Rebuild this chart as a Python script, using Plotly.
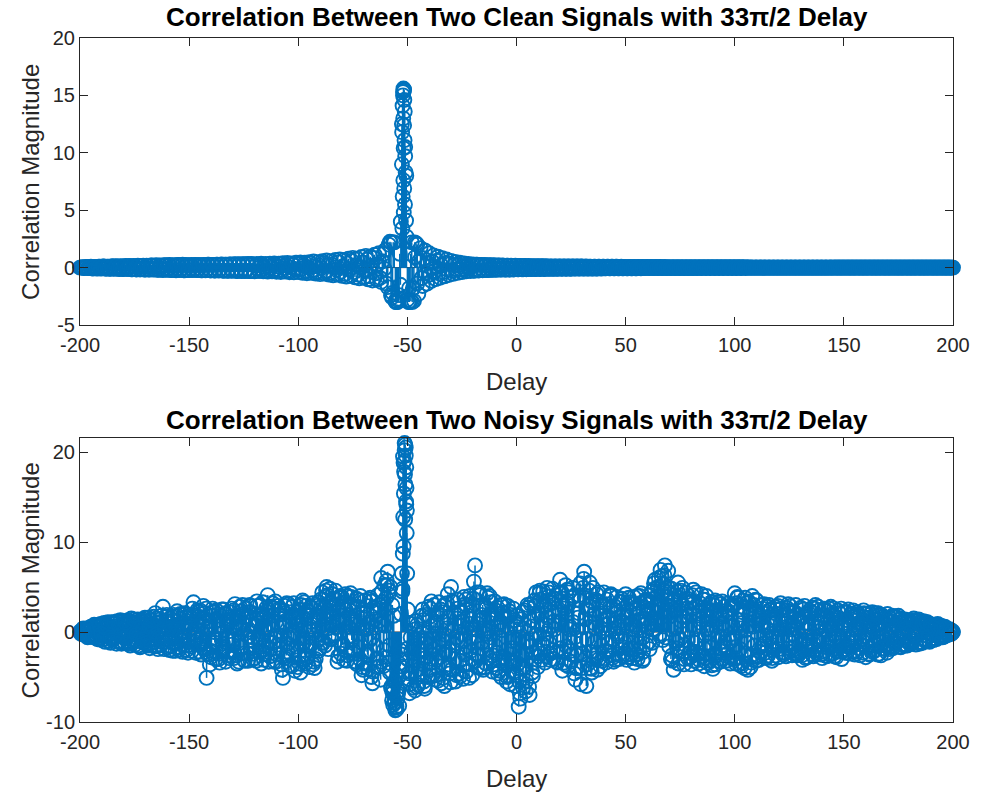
import plotly.graph_objects as go
from plotly.subplots import make_subplots

# ---------------- data ----------------
delay = list(range(-200, 201))                      # integer delays
delay_half = [d + 0.5 for d in range(-200, 200)]    # half-step delays
delay_q1 = [d + 0.25 for d in range(-200, 200)]     # quarter-step delays (noisy)
delay_q3 = [d + 0.75 for d in range(-200, 200)]

clean_corr = [
    0.00, 0.04, -0.05, 0.06, -0.04, 0.07, -0.08, 0.05, -0.09, 0.08,
    -0.06, 0.10, -0.10, 0.07, -0.11, 0.12, -0.08, 0.11, -0.13, 0.10,
    -0.12, 0.14, -0.10, 0.13, -0.15, 0.12, -0.16, 0.15, -0.13, 0.17,
    -0.17, 0.14, -0.18, 0.19, -0.15, 0.20, -0.19, 0.16, -0.21, 0.20,
    -0.18, 0.22, -0.22, 0.19, -0.24, 0.23, -0.20, 0.25, -0.24, 0.21,
    -0.22, 0.22, -0.20, 0.23, -0.22, 0.21, -0.24, 0.24, -0.22, 0.25,
    -0.25, 0.23, -0.26, 0.26, -0.24, 0.27, -0.27, 0.25, -0.28, 0.28,
    -0.26, 0.29, -0.29, 0.27, -0.30, 0.30, -0.28, 0.31, -0.31, 0.29,
    -0.32, 0.32, -0.30, 0.34, -0.33, 0.31, -0.35, 0.35, -0.32, 0.36,
    -0.36, 0.34, -0.38, 0.38, -0.35, 0.40, -0.40, 0.37, -0.42, 0.42,
    -0.39, 0.45, -0.45, 0.42, -0.49, 0.48, -0.45, 0.53, -0.52, 0.48,
    -0.57, 0.56, -0.52, 0.62, -0.61, 0.56, -0.67, 0.66, -0.60, 0.72,
    -0.72, 0.66, -0.78, 0.78, -0.72, 0.85, -0.85, 0.78, -0.93, 0.92,
    -0.86, 1.02, -1.02, 0.95, -1.12, 1.12, -1.04, 1.25, -1.25, 1.18,
    1.55, -1.70, 2.25, -2.60, 2.20, -3.00, -2.70, 4.00, 15.30, 10.50,
    -2.80, -3.00, 2.20, -2.90, 2.10, -2.30, 1.70, -1.60, 1.50, -1.40,
    1.25, -1.15, 1.05, -1.00, 0.95, -0.88, 0.82, -0.76, 0.70, -0.64,
    0.58, -0.54, 0.50, -0.46, 0.42, -0.39, 0.36, -0.33, 0.31, -0.29,
    0.27, -0.26, 0.25, -0.24, 0.23, -0.22, 0.21, -0.21, 0.20, -0.19,
    0.19, -0.18, 0.18, -0.17, 0.17, -0.16, 0.16, -0.16, 0.15, -0.15,
    0.15, -0.14, 0.14, -0.14, 0.14, -0.13, 0.13, -0.13, 0.13, -0.12,
    0.12, -0.12, 0.12, -0.12, 0.11, -0.11, 0.11, -0.11, 0.11, -0.10,
    0.10, -0.10, 0.10, -0.10, 0.10, -0.10, 0.09, -0.09, 0.09, -0.09,
    0.09, -0.09, 0.09, -0.08, 0.08, -0.08, 0.08, -0.08, 0.08, -0.08,
    0.08, -0.07, 0.07, -0.07, 0.07, -0.07, 0.07, -0.07, 0.07, -0.06,
    0.06, -0.06, 0.06, -0.06, 0.06, -0.06, 0.06, -0.06, 0.05, -0.05,
    0.05, -0.05, 0.05, -0.05, 0.05, -0.05, 0.05, -0.05, 0.05, -0.04,
    0.04, -0.04, 0.04, -0.04, 0.04, -0.04, 0.04, -0.04, 0.04, -0.04,
    0.04, -0.04, 0.03, -0.03, 0.03, -0.03, 0.03, -0.03, 0.03, -0.03,
    0.03, -0.03, 0.03, -0.03, 0.03, -0.03, 0.03, -0.03, 0.03, -0.03,
    0.03, -0.03, 0.03, -0.03, 0.03, -0.03, 0.03, -0.02, 0.02, -0.02,
    0.02, -0.02, 0.02, -0.02, 0.02, -0.02, 0.02, -0.02, 0.02, -0.02,
    0.02, -0.02, 0.02, -0.02, 0.02, -0.02, 0.02, -0.02, 0.02, -0.02,
    0.02, -0.02, 0.02, -0.02, 0.02, -0.02, 0.02, -0.02, 0.02, -0.02,
    0.02, -0.02, 0.02, -0.02, 0.02, -0.02, 0.02, -0.01, 0.01, -0.01,
    0.01, -0.01, 0.01, -0.01, 0.01, -0.01, 0.01, -0.01, 0.01, -0.01,
    0.01, -0.01, 0.01, -0.01, 0.01, -0.01, 0.01, -0.01, 0.01, -0.01,
    0.01, -0.01, 0.01, -0.01, 0.01, -0.01, 0.01, -0.01, 0.01, -0.01,
    0.01, -0.01, 0.01, -0.01, 0.01, -0.01, 0.01, -0.01, 0.01, -0.01,
    0.01, -0.01, 0.01, -0.01, 0.01, -0.01, 0.01, -0.01, 0.01, -0.01, 0.00,
]

clean_corr_half = [
    0.02, -0.03, 0.05, -0.05, 0.06, -0.07, 0.06, -0.07, 0.08, -0.08,
    0.09, -0.09, 0.08, -0.10, 0.11, -0.10, 0.12, -0.11, 0.12, -0.13,
    0.13, -0.12, 0.14, -0.15, 0.14, -0.15, 0.16, -0.16, 0.15, -0.17,
    0.17, -0.16, 0.18, -0.18, 0.17, -0.19, 0.19, -0.18, 0.20, -0.20,
    0.20, -0.21, 0.21, -0.20, 0.22, -0.22, 0.21, -0.23, 0.23, -0.22,
    0.21, -0.22, 0.23, -0.21, 0.23, -0.24, 0.22, -0.24, 0.25, -0.23,
    0.24, -0.25, 0.26, -0.25, 0.26, -0.27, 0.26, -0.27, 0.28, -0.27,
    0.28, -0.29, 0.29, -0.28, 0.30, -0.30, 0.29, -0.31, 0.31, -0.30,
    0.15, -0.08, 0.22, -0.18, 0.05, -0.25, 0.12, -0.02, 0.20, -0.15,
    0.10, -0.22, 0.28, -0.05, 0.18, -0.30, 0.02, 0.25, -0.12, -0.20,
    0.30, -0.10, 0.15, -0.32, 0.05, 0.35, -0.22, 0.12, -0.38, 0.20,
    -0.05, 0.40, -0.30, 0.18, -0.45, 0.25, 0.02, -0.20, 0.48, -0.35,
    0.10, -0.55, 0.35, -0.15, 0.60, -0.40, 0.20, -0.62, 0.05, 0.45,
    -0.30, 0.70, -0.75, 0.15, 0.85, -0.50, 0.30, -0.90, 0.55, -0.10,
    -1.40, 2.00, -2.40, 2.20, -2.90, -3.00, 1.20, 12.50, 15.50, 8.00,
    -3.00, 1.20, -1.80, 0.90, -1.40, 0.60, -0.90, 0.80, -0.50, 0.40,
    -0.60, 0.50, -0.30, 0.60, -0.50, 0.20, -0.40, 0.40, -0.20, 0.30,
    -0.25, 0.20, -0.15, 0.22, -0.18, 0.10, -0.15, 0.16, -0.08, 0.12,
    -0.27, 0.26, -0.25, 0.24, -0.23, 0.22, -0.21, 0.21, -0.20, 0.20,
    -0.19, 0.19, -0.18, 0.18, -0.18, 0.17, -0.17, 0.17, -0.16, 0.16,
    -0.15, 0.15, -0.14, 0.14, -0.14, 0.14, -0.13, 0.13, -0.13, 0.13,
    -0.12, 0.12, -0.12, 0.12, -0.11, 0.11, -0.11, 0.11, -0.11, 0.10,
    -0.10, 0.10, -0.10, 0.10, -0.10, 0.09, -0.09, 0.09, -0.09, 0.09,
    -0.09, 0.08, -0.08, 0.08, -0.08, 0.08, -0.08, 0.08, -0.07, 0.07,
    -0.07, 0.07, -0.07, 0.07, -0.07, 0.07, -0.06, 0.06, -0.06, 0.06,
    -0.06, 0.06, -0.06, 0.06, -0.06, 0.05, -0.05, 0.05, -0.05, 0.05,
    -0.05, 0.05, -0.05, 0.05, -0.05, 0.05, -0.05, 0.04, -0.04, 0.04,
    -0.04, 0.04, -0.04, 0.04, -0.04, 0.04, -0.04, 0.04, -0.04, 0.04,
    -0.04, 0.04, -0.04, 0.03, -0.03, 0.03, -0.03, 0.03, -0.03, 0.03,
    -0.03, 0.03, -0.03, 0.03, -0.03, 0.03, -0.03, 0.03, -0.03, 0.03,
    -0.03, 0.03, -0.03, 0.03, -0.02, 0.02, -0.02, 0.02, -0.02, 0.02,
    -0.02, 0.02, -0.02, 0.02, -0.02, 0.02, -0.02, 0.02, -0.02, 0.02,
    -0.02, 0.02, -0.02, 0.02, -0.02, 0.02, -0.02, 0.02, -0.02, 0.02,
    -0.02, 0.02, -0.02, 0.02, -0.02, 0.02, -0.02, 0.02, -0.02, 0.02,
    -0.02, 0.02, -0.02, 0.02, -0.01, 0.01, -0.01, 0.01, -0.01, 0.01,
    -0.01, 0.01, -0.01, 0.01, -0.01, 0.01, -0.01, 0.01, -0.01, 0.01,
    -0.01, 0.01, -0.01, 0.01, -0.01, 0.01, -0.01, 0.01, -0.01, 0.01,
    -0.01, 0.01, -0.01, 0.01, -0.01, 0.01, -0.01, 0.01, -0.01, 0.01,
    -0.01, 0.01, -0.01, 0.01, -0.01, 0.01, -0.01, 0.01, -0.01, 0.01,
    -0.01, 0.01, -0.01, 0.01, -0.01, 0.01, -0.01, 0.01, -0.01, 0.01,
]

# extra fine-delay samples around the clean main lobe
clean_peak_delay = [-51.8, -51.6, -52.0, -51.4, -52.2, -51.2, -51.9, -51.5, -52.4, -51.3,
                    -51.7, -51.0, -52.5, -50.8, -51.85, -51.45, -52.15, -51.1, -51.65, -50.6,
                    -52.3, -50.4, -53.2, -54.6, -55.3, -48.4, -47.8, -57.5, -45.5, -56.8,
                    -46.6, -53.8, -49.2]
clean_peak_corr = [15.6, 15.4, 15.0, 14.6, 14.1, 13.6, 13.0, 12.4, 11.8, 11.1,
                   10.4, 9.7, 9.0, 8.3, 7.6, 6.9, 6.2, 5.5, 4.8, 4.1,
                   3.4, 2.7, -1.5, -2.8, -3.0, -2.9, -3.0, 2.2, 2.0, -2.2,
                   2.2, -2.4, -1.8]

noisy_corr = [
    0.0, 0.2, -0.3, 0.4, -0.5, 0.6, -0.4, 0.7, -0.8, 0.5,
    -0.9, 1.0, -0.3, 0.6, -1.2, 0.9, -0.6, 1.2, 0.2, -1.3,
    0.8, -0.7, 1.3, -1.5, 0.3, 1.1, -1.0, 0.5, -1.6, 1.4,
    -0.4, 1.6, -1.8, 0.9, -1.1, 1.5, 0.1, -1.4, 2.8, -0.8,
    1.2, -2.0, 0.6, 1.9, -1.3, -0.5, 2.0, -2.2, 1.0, -0.9,
    1.8, -1.6, 3.3, -2.3, 0.7, 2.4, -1.2, 1.5, -5.1, 0.4,
    -2.8, 2.2, -0.8, 1.3, -3.4, 2.5, -1.9, 0.9, -2.6, 1.7,
    -1.0, 3.1, -3.5, 0.5, 2.3, -2.4, 1.6, -3.2, 2.9, -0.6,
    -2.9, 3.4, 1.0, -3.5, 2.0, -1.5, 4.1, -2.7, 0.8, 2.6,
    -3.3, 1.9, -0.4, -5.1, 2.9, -2.2, 1.2, -3.8, 3.2, -1.6,
    0.9, -4.5, 3.5, -2.5, 1.8, -3.9, 2.7, 0.2, -3.0, 3.3,
    -1.8, 4.4, 1.5, 5.0, -0.5, 3.2, 2.1, 4.6, -3.3, 1.2,
    3.9, -3.1, 2.4, 0.6, 4.3, -2.0, 1.7, -3.6, 3.5, -4.8,
    2.2, 0.3, -4.1, 3.8, -5.7, 1.4, -2.9, 3.0, 6.0, -3.8,
    2.5, 6.7, -4.5, -7.6, -5.5, -8.6, -6.5, 2.0, 19.5, 12.5,
    -3.0, -6.8, -4.5, -1.5, 1.2, -5.9, -2.6, 2.5, -6.3, -0.8,
    -4.2, 3.4, -1.9, 1.0, -5.4, -2.8, 2.2, -6.0, 0.4, -3.6,
    5.0, -1.4, -5.5, 2.6, -3.2, 0.7, 3.9, -4.4, 1.8, -2.1,
    2.9, 7.4, -3.9, 4.4, -1.2, 1.6, -3.5, 3.8, -0.6, -4.4,
    3.4, -2.3, 0.5, -5.0, 2.1, -3.7, 2.9, -5.8, -1.0, 1.3,
    -4.8, -8.3, 1.4, -6.2, -2.4, 3.0, -7.0, 0.6, -3.4, 4.4,
    -2.7, 3.6, 0.8, -3.4, 4.9, -1.2, 2.2, -3.0, 4.1, 1.0,
    5.8, -4.3, 2.6, -1.6, 4.4, -3.3, 1.1, -5.3, 0.2, 3.5,
    -4.0, 6.7, -6.0, 2.9, -2.2, 4.9, 0.5, -4.2, 3.3, -1.5,
    4.4, -3.4, 1.7, 2.8, -2.6, 0.4, 3.9, -3.0, 1.2, -1.0,
    4.2, -2.8, 0.9, 3.1, -3.4, 2.0, -1.3, 4.3, -2.2, 1.5,
    3.5, -1.9, 4.5, 5.4, 1.0, 2.8, 6.9, -0.9, 7.4, 3.9,
    -1.6, 4.8, -4.2, 2.4, 5.5, -0.8, 4.9, -3.0, 1.8, 3.3,
    -3.6, 4.7, 0.6, -2.5, 3.2, 1.4, -3.8, 4.0, -1.2, 2.3,
    -4.1, 3.5, -0.4, 1.9, -3.0, 2.8, -1.8, 3.2, -3.5, 0.7,
    4.3, -2.9, 1.3, -3.8, 3.5, 0.2, -4.2, 2.6, 4.0, -1.5,
    3.5, -3.1, 0.8, 2.1, -2.3, 2.8, -0.7, -3.2, 1.6, 2.5,
    -2.8, 3.2, -1.1, 0.9, 2.4, -2.2, 1.7, -0.3, 3.0, -2.6,
    1.4, -3.1, 2.9, -1.5, 0.6, 2.2, -2.7, 3.0, -0.9, 1.1,
    -2.9, 2.6, 0.2, -1.8, 2.8, -2.4, 1.3, -0.5, 2.1, -3.0,
    1.0, -1.9, 2.5, -0.6, 1.7, -2.5, 2.2, 0.3, -1.4, 2.4,
    -2.8, 1.6, -0.9, 2.2, -2.1, 0.7, 1.9, -2.6, 1.1, -1.5,
    2.0, -1.9, 0.5, 1.6, -1.2, 1.8, -1.7, 0.1, 1.4, -1.5,
    1.3, -0.8, 1.5, -1.4, 0.6, 1.1, -1.2, 0.3, 1.0, -1.0,
    0.8, -0.9, 0.4, 0.9, -0.6, 0.6, -0.5, 0.4, -0.3, 0.2, 0.0,
]

noisy_corr_half = [
    -0.2, 0.4, 0.1, -0.6, 0.3, -0.2, 0.8, -0.5, 0.2, 0.9,
    0.4, -1.1, 0.7, -0.2, 1.1, -0.8, 0.3, -1.0, 1.3, -0.4,
    -1.2, 0.9, -0.3, 1.5, -0.9, 0.4, 1.4, -1.7, 0.7, -0.5,
    1.2, -1.3, 0.4, -0.7, 2.1, -1.6, 1.0, 0.3, -1.9, 1.7,
    -0.8, 1.5, -2.1, 0.2, 2.3, -1.7, 0.8, -0.4, 1.6, -2.3,
    0.9, 2.6, -1.1, -0.3, 1.7, -2.5, 2.9, -1.9, 0.3, -3.6,
    1.8, -0.6, 2.4, -3.0, 0.7, -1.3, 2.1, -2.2, 1.1, 2.6,
    -2.9, 0.4, 1.8, -1.7, 3.0, -3.2, 0.2, 2.2, -0.9, -2.4,
    1.3, -0.7, 3.0, -2.1, 0.5, 2.7, -3.3, 1.8, -1.2, 3.4,
    -1.4, 2.4, -4.2, 0.8, -2.6, 3.1, -0.3, 1.5, -4.3, 2.2,
    -3.5, 1.3, -1.2, 2.9, -2.7, 0.6, 3.2, -4.0, 1.7, -0.8,
    2.8, -1.2, 3.9, 0.4, 4.8, 1.7, -0.4, 3.6, 2.5, -2.4,
    1.3, 4.2, -2.6, 3.1, -0.9, 2.6, -3.3, 0.8, 4.0, -3.9,
    3.5, -2.2, 1.1, -5.0, 2.7, -1.5, 4.1, -3.3, 0.9, 5.2,
    -2.8, 4.6, -6.2, -8.1, -5.5, -7.4, -4.2, 6.5, 17.8, 14.2,
    -5.2, -0.6, -3.8, -6.5, 0.8, -4.1, -1.9, -5.5, 1.9, -3.3,
    2.6, -4.9, -0.2, -3.1, 3.3, -5.7, 1.1, -2.2, 4.2, -4.6,
    0.3, 3.3, -4.8, -0.9, 2.2, -5.2, 3.1, -1.6, 4.0, -3.0,
    5.6, -2.5, 1.3, -4.0, 3.0, -0.2, 4.3, -2.9, 1.9, -3.6,
    2.4, -4.6, 1.1, 3.0, -2.8, -5.5, 1.7, -3.2, 2.6, -6.0,
    0.9, -6.8, -3.9, 2.4, -5.4, -1.1, 3.1, -4.9, 1.8, -2.0,
    4.3, -3.1, 2.8, -0.7, 3.9, -2.4, 4.8, 0.3, -3.3, 2.5,
    3.4, -2.2, 5.2, -3.8, 0.6, 3.8, -4.6, -2.6, 2.1, -5.8,
    4.9, 1.4, -3.6, 5.5, -4.5, 2.0, -2.9, 4.4, -3.8, 1.3,
    -2.9, 3.6, -1.1, 4.0, -3.3, 2.4, -0.5, 3.3, -2.7, 2.2,
    -3.1, 3.8, -1.8, 2.6, 0.2, -3.0, 4.0, -0.7, 3.4, -1.4,
    2.2, 4.1, 0.3, 5.8, 3.0, -0.4, 6.2, 4.6, 1.8, 6.8,
    2.9, -3.2, 4.1, -1.8, 3.8, 1.2, -2.4, 4.4, -2.9, 2.0,
    4.1, -2.2, 2.9, -3.5, 1.0, 3.6, -2.9, 0.4, 3.1, -3.7,
    2.1, -2.6, 3.3, -3.3, 0.9, -1.1, 2.4, -2.8, 3.0, -0.6,
    -3.5, 3.8, -1.9, 2.2, -4.0, 3.2, 0.7, -3.4, 1.5, 3.6,
    -2.6, 1.5, -1.6, 3.1, -2.9, 0.2, 2.4, -2.0, 2.8, -1.1,
    2.5, -2.3, 0.5, -2.7, 3.1, 0.8, -1.7, 2.2, -2.4, 1.4,
    -2.2, 2.5, -2.9, 1.0, -1.1, 2.7, -2.0, 0.6, 2.4, -2.5,
    1.9, -2.6, 2.3, -1.0, 0.8, 2.6, -2.8, 1.6, -2.2, 0.5,
    -2.3, 2.2, -1.2, 1.4, -2.2, 0.4, 2.0, -2.6, 1.3, -0.4,
    2.0, -2.4, 1.2, -1.5, 2.1, -2.5, 0.4, 1.7, -1.9, 1.4,
    -1.4, 1.5, -1.8, 0.9, -0.6, 1.4, 1.0, -1.4, 0.6, 1.2,
    -1.3, 0.9, -0.5, 1.3, -1.1, 0.2, 1.2, -0.9, 0.5, 0.9,
    -0.7, 0.6, -0.8, 0.2, 0.7, -0.4, 0.5, -0.3, 0.3, -0.1,
]

noisy_corr_q1 = [
    0.1, -0.2, 0.3, 0.2, -0.4, 0.5, -0.6, 0.3, 0.6, -0.7,
    0.7, -0.5, 0.9, -1.0, 0.4, -0.7, 1.0, -0.2, -1.1, 0.8,
    -0.6, 1.2, -1.3, 0.3, 0.9, -1.4, 1.1, -0.2, 1.3, -1.2,
    0.8, -1.5, 1.3, 0.2, -1.6, 1.1, -0.7, 1.8, -1.2, 0.5,
    -1.7, 0.9, 1.7, -1.1, 0.4, -2.0, 1.5, -0.6, 2.0, -1.5,
    0.3, -2.1, 1.9, -0.9, 2.2, -1.4, -0.2, 2.1, -2.4, 1.2,
    -1.5, 2.3, -3.0, 0.6, 1.8, -2.2, 2.0, -0.8, -2.9, 1.4,
    2.4, -2.6, 0.3, 2.8, -1.6, -3.1, 1.7, -0.5, 2.2, -3.0,
    0.8, 2.9, -2.2, 1.5, -3.1, 0.3, 2.5, -1.9, 3.2, -0.4,
    -2.5, 2.6, -3.6, 1.0, 2.1, -1.3, -3.7, 2.8, -0.2, 1.6,
    -2.8, 3.0, -0.7, -3.5, 2.3, -1.6, 1.1, -3.3, 2.9, -2.1,
    3.6, 0.8, -1.5, 4.1, 1.9, -0.8, 3.0, 0.5, -2.7, 4.0,
    -1.3, 3.3, -3.2, 1.9, 3.9, -2.4, 0.9, 2.8, -3.0, 0.4,
    -3.5, 2.9, -1.0, 3.4, -4.4, 0.5, 2.4, -3.8, 4.5, -2.0,
    3.8, -3.4, 5.0, -6.8, -7.9, -4.8, -8.2, -2.5, 9.5, 20.5,
    -1.8, -5.8, 0.9, -3.2, -6.1, -0.4, -4.7, 1.3, -2.9, -5.0,
    1.7, -3.0, 3.0, -4.8, -1.2, 2.5, -5.1, -0.3, 3.2, -2.5,
    -4.2, 2.2, -0.6, 3.6, -4.9, 1.2, -2.5, 2.9, -5.1, 0.4,
    3.7, -3.2, 0.9, 4.1, -1.8, -3.9, 2.6, 0.1, 3.3, -2.6,
    -1.5, 2.7, -4.3, 0.2, 3.1, -2.0, -4.8, 1.9, -0.6, -3.4,
    1.8, -5.5, -2.6, 0.4, -6.6, 2.7, -1.6, -4.5, 3.5, -0.3,
    2.0, -2.4, 4.5, -0.2, 1.6, -3.1, 3.2, 1.2, -2.2, 4.4,
    -1.8, 3.0, -3.6, 4.7, 0.3, -2.5, 4.0, -4.0, 1.6, 5.4,
    -2.4, 3.8, -0.8, 4.6, -4.1, 1.0, 3.6, -2.3, 2.1, -3.2,
    0.8, 3.1, -2.2, 4.2, -0.9, -3.1, 2.2, 0.6, 3.7, -2.4,
    1.7, -1.9, 3.3, -2.9, 0.6, 4.0, -2.0, 1.2, -3.0, 3.6,
    0.5, 3.3, -1.2, 4.8, 2.2, 6.0, 0.9, 5.3, -0.6, 5.0,
    2.2, -2.6, 3.6, 0.4, -3.5, 4.6, 1.7, -1.4, 3.7, -2.3,
    2.6, -3.2, 4.4, -0.9, 2.3, -2.7, 3.6, -3.4, 1.5, -1.7,
    3.0, -3.6, 1.4, -2.1, 3.4, 0.3, -3.2, 2.1, -1.0, 3.0,
    -1.7, 3.9, -3.6, 1.0, 2.7, -2.4, 3.4, -3.9, 0.6, 2.4,
    -2.8, 1.9, 3.0, -1.3, 0.5, -2.6, 2.5, -2.9, 0.9, 2.0,
    -1.9, 2.6, -2.5, 1.2, -0.8, 2.9, -2.6, 0.4, 1.9, -2.2,
    2.7, -1.0, 0.3, -2.8, 2.4, -1.6, 1.5, -2.3, 2.8, -0.5,
    -2.4, 1.4, -2.7, 2.6, -0.7, 1.8, -2.1, 2.4, -1.2, 0.7,
    2.2, -2.3, 0.7, -1.6, 2.4, -1.0, -2.2, 1.7, -0.9, 2.1,
    -1.6, 0.6, 2.0, -2.2, 1.4, -0.5, -2.4, 1.9, -1.1, 0.9,
    -1.7, 1.2, 1.8, -1.3, 0.7, -1.6, 1.5, -0.6, -1.5, 1.0,
    0.9, -1.3, 1.2, -0.4, 1.4, -1.2, 0.6, -0.8, 1.1, -1.1,
    0.5, -0.8, 0.8, -0.5, 0.3, -0.6, 0.6, -0.2, 0.2, -0.2,
]

noisy_corr_q3 = [
    -0.1, 0.3, -0.4, 0.1, 0.5, -0.3, 0.4, -0.7, 0.8, -0.2,
    -0.8, 0.5, 1.1, -0.6, -0.9, 1.1, -1.3, 0.7, -0.3, 1.2,
    1.0, -1.1, 0.6, -1.3, 1.4, -0.3, -1.5, 1.2, -0.8, 1.6,
    -1.2, 0.6, -1.5, 1.7, -0.3, -1.9, 1.4, -0.9, 0.6, 1.9,
    0.4, -1.6, 1.3, -2.1, 1.8, -0.2, -1.4, 2.1, -2.0, 0.8,
    -1.1, 1.5, -0.6, 2.4, -2.2, 1.0, -1.9, 2.6, 0.5, -2.5,
    2.6, -1.2, 1.3, -2.4, -0.2, 2.5, -3.3, 1.2, 2.2, -1.4,
    -2.2, 1.1, -3.3, 1.9, 0.3, 2.6, -2.4, 3.0, -1.5, 0.6,
    -3.2, 1.4, -0.8, 3.3, -2.4, 1.9, -1.1, 2.8, -3.3, 1.1,
    2.9, -1.8, 0.5, -2.9, 3.2, -0.6, 2.2, -2.0, 1.7, -3.9,
    2.5, -1.4, 3.3, -2.9, 0.3, 2.8, -3.6, 1.2, -0.9, 2.1,
    -1.2, 2.6, 4.6, -1.9, 2.3, 4.2, -0.2, 1.4, 3.8, -1.5,
    2.8, -2.0, 4.0, -0.4, 1.3, -3.3, 3.7, -1.7, 2.2, -4.2,
    1.6, -2.5, 3.6, -0.6, 2.2, -3.9, 1.2, -5.3, 3.3, 0.7,
    5.2, -1.5, -6.0, 1.8, -8.4, -6.8, -3.8, 4.8, 21.0, 13.5,
    -4.6, -2.2, -6.2, 0.3, -5.0, -2.0, 1.8, -6.0, -1.2, 2.8,
    -3.4, 0.8, -5.3, 2.0, -2.3, -0.8, 3.0, -4.0, 1.6, -5.6,
    3.4, -3.0, 1.5, -4.6, 2.2, -1.0, 3.6, -3.6, 0.9, -4.8,
    0.3, 4.4, -2.5, 1.9, -4.2, 2.8, -1.1, 4.0, -3.2, 1.5,
    -4.0, 0.9, 3.0, -3.2, 1.6, -5.0, 2.3, -1.8, -4.4, 0.6,
    -3.5, -7.4, 2.2, -4.0, -1.0, -6.1, 1.3, -2.3, 2.9, -3.9,
    4.6, -1.3, 3.0, -2.7, 4.4, 0.6, -2.0, 3.7, -3.4, 2.2,
    4.4, -3.4, 1.9, 3.1, -2.1, 4.9, -0.6, -4.0, 4.1, -0.9,
    5.9, -2.9, 2.5, -4.0, 3.3, -1.1, 4.2, -3.0, 0.4, 2.9,
    -2.1, 1.4, 4.1, -2.9, 2.9, -0.2, -2.5, 3.4, -1.7, 1.0,
    -2.5, 2.2, 0.3, 3.9, -2.5, 1.3, 3.2, -3.2, 0.8, 2.4,
    -1.1, 2.6, 3.7, 1.5, 5.0, -0.2, 4.3, 6.3, 2.6, 4.4,
    -3.0, 3.4, -1.0, 4.5, -2.2, 3.0, -3.6, 2.6, 0.3, -2.8,
    3.4, -1.2, 1.8, -3.1, 4.2, -1.8, 2.6, -0.1, -3.2, 3.3,
    -2.4, 2.4, -3.3, 3.1, -1.5, 1.9, -2.4, 0.6, 2.6, -3.0,
    3.2, -2.2, 0.4, -3.4, 3.8, -1.2, 1.9, -2.6, 3.0, -3.2,
    1.3, -2.2, 2.6, -0.4, -2.8, 3.0, -1.4, 1.3, -2.6, 2.9,
    -0.6, 1.7, -2.3, 2.7, -1.8, 0.3, 2.3, -2.5, 1.1, -1.4,
    -2.6, 1.8, -1.9, 2.1, -0.4, -2.5, 2.6, -1.1, 0.5, -2.2,
    2.5, -0.7, 1.1, -2.5, 2.0, -2.7, 0.9, -1.6, 2.6, -2.1,
    -1.5, 1.3, -2.4, 2.0, -0.3, 1.9, -1.8, 0.9, -2.3, 1.5,
    1.2, -2.5, 0.5, 1.6, -1.4, 2.1, -1.0, -1.8, 1.5, -2.3,
    1.6, -0.6, -1.6, 1.7, -1.0, 1.1, -1.4, 1.3, 0.4, -1.2,
    -1.0, 1.3, -0.3, 1.0, -1.3, 0.8, -0.9, 1.1, -0.5, 0.7,
    -0.8, 0.4, 0.7, -0.6, 0.5, -0.3, 0.4, -0.3, 0.1, 0.1,
]

# extra fine-delay samples around the noisy spike
noisy_peak_delay = [-51.5, -51.0, -51.25, -50.75, -51.75, -50.5, -51.1, -50.9, -51.6, -50.6,
                    -51.9, -50.3, -52.1, -50.1, -52.3, -49.8, -49.6, -51.35, -50.4,
                    -55.5, -55.0, -56.0, -54.6, -56.4, -54.2, -53.8, -53.4, -57.0, -55.8,
                    -59.5, -58.6, -56.9]
noisy_peak_corr = [21.7, 20.8, 20.2, 19.6, 18.8, 18.3, 17.5, 16.4, 15.4, 14.5,
                   12.8, 11.0, 8.7, 6.5, 4.5, 2.5, 1.0, 19.0, 16.0,
                   -8.7, -8.3, -7.8, -7.0, -6.2, -5.0, -3.5, -2.0, -6.5, -7.5,
                   5.7, 4.2, 3.0]

assert len(delay) == len(clean_corr) == len(noisy_corr)
assert len(delay_half) == len(clean_corr_half) == len(noisy_corr_half)
assert len(delay_q1) == len(noisy_corr_q1) and len(delay_q3) == len(noisy_corr_q3)

x_ticks = [-200, -150, -100, -50, 0, 50, 100, 150, 200]
y_ticks_top = [-5, 0, 5, 10, 15, 20]
y_ticks_bot = [-10, 0, 10, 20]

titles = ["Correlation Between Two Clean Signals with 33\u03c0/2 Delay",
          "Correlation Between Two Noisy Signals with 33\u03c0/2 Delay"]
x_label = "Delay"
y_label = "Correlation Magnitude"

# ---------------- figure ----------------
BLUE = "#0072BD"
AXC = "#262626"
FONT = "Liberation Sans, Arial, Helvetica, sans-serif"
TICK_SIZE = 20
LABEL_SIZE = 24
TITLE_SIZE = 26

fig = make_subplots(rows=2, cols=1, vertical_spacing=0.0)


def add_stem(xs, ys, row):
    sx, sy = [], []
    for xv, yv in zip(xs, ys):
        sx += [xv, xv, None]
        sy += [0, yv, None]
    fig.add_trace(go.Scatter(x=[-200, 200], y=[0, 0], mode="lines",
                             line=dict(color=AXC, width=1), hoverinfo="skip",
                             showlegend=False), row=row, col=1)
    fig.add_trace(go.Scatter(x=sx, y=sy, mode="lines", cliponaxis=False,
                             line=dict(color=BLUE, width=1.5), hoverinfo="skip",
                             showlegend=False), row=row, col=1)
    fig.add_trace(go.Scatter(x=xs, y=ys, mode="markers", cliponaxis=False,
                             marker=dict(symbol="circle-open", size=14, color=BLUE,
                                         line=dict(color=BLUE, width=1.9)),
                             showlegend=False), row=row, col=1)


add_stem(delay + delay_half + clean_peak_delay,
         clean_corr + clean_corr_half + clean_peak_corr, 1)
add_stem(delay + delay_half + delay_q1 + delay_q3 + noisy_peak_delay,
         noisy_corr + noisy_corr_half + noisy_corr_q1 + noisy_corr_q3 + noisy_peak_corr, 2)

axis_common = dict(showline=True, linecolor=AXC, linewidth=1, mirror="ticks",
                   ticks="inside", ticklen=8, tickcolor=AXC, showgrid=False,
                   zeroline=False, tickfont=dict(family=FONT, size=TICK_SIZE, color=AXC))


def labels(vals):
    return [str(v).replace("\u2212", "-") for v in vals]


fig.update_xaxes(range=[-200, 200], tickvals=x_ticks, ticktext=labels(x_ticks),
                 ticklabelstandoff=2, **axis_common)
fig.update_yaxes(range=[-5, 20], tickvals=y_ticks_top, ticktext=labels(y_ticks_top),
                 row=1, col=1, **axis_common)
fig.update_yaxes(range=[-10, 21.56], tickvals=y_ticks_bot, ticktext=labels(y_ticks_bot),
                 row=2, col=1, **axis_common)

top_dom = [(722 - 325) / 684, 1.0]
bot_dom = [0.0, (722 - 438) / 684]
fig.update_layout(
    width=982, height=798,
    margin=dict(l=80, r=22, t=38, b=76),
    paper_bgcolor="white", plot_bgcolor="white",
    yaxis=dict(domain=top_dom), yaxis2=dict(domain=bot_dom),
    xaxis=dict(domain=[0, 1]), xaxis2=dict(domain=[0, 1]),
    font=dict(family=FONT, color=AXC),
)

label_font = dict(family=FONT, size=LABEL_SIZE, color=AXC)
title_font = dict(family=FONT, size=TITLE_SIZE, color="black")

# titles
fig.add_annotation(text="<b>" + titles[0] + "</b>", xref="paper", yref="paper",
                   x=0.5, y=top_dom[1], yshift=21, yanchor="middle", showarrow=False,
                   font=title_font)
fig.add_annotation(text="<b>" + titles[1] + "</b>", xref="paper", yref="paper",
                   x=0.5, y=bot_dom[1], yshift=18, yanchor="middle", showarrow=False,
                   font=title_font)
# axis labels
for dom in (top_dom, bot_dom):
    fig.add_annotation(text=x_label, xref="paper", yref="paper", x=0.5, y=dom[0],
                       yshift=-56, yanchor="middle", showarrow=False, font=label_font)
    fig.add_annotation(text=y_label, xref="paper", yref="paper", x=(30 - 80) / 880,
                       y=(dom[0] + dom[1]) / 2, xanchor="center", yanchor="middle",
                       textangle=-90, showarrow=False, font=label_font)

fig.write_html("out.html")
